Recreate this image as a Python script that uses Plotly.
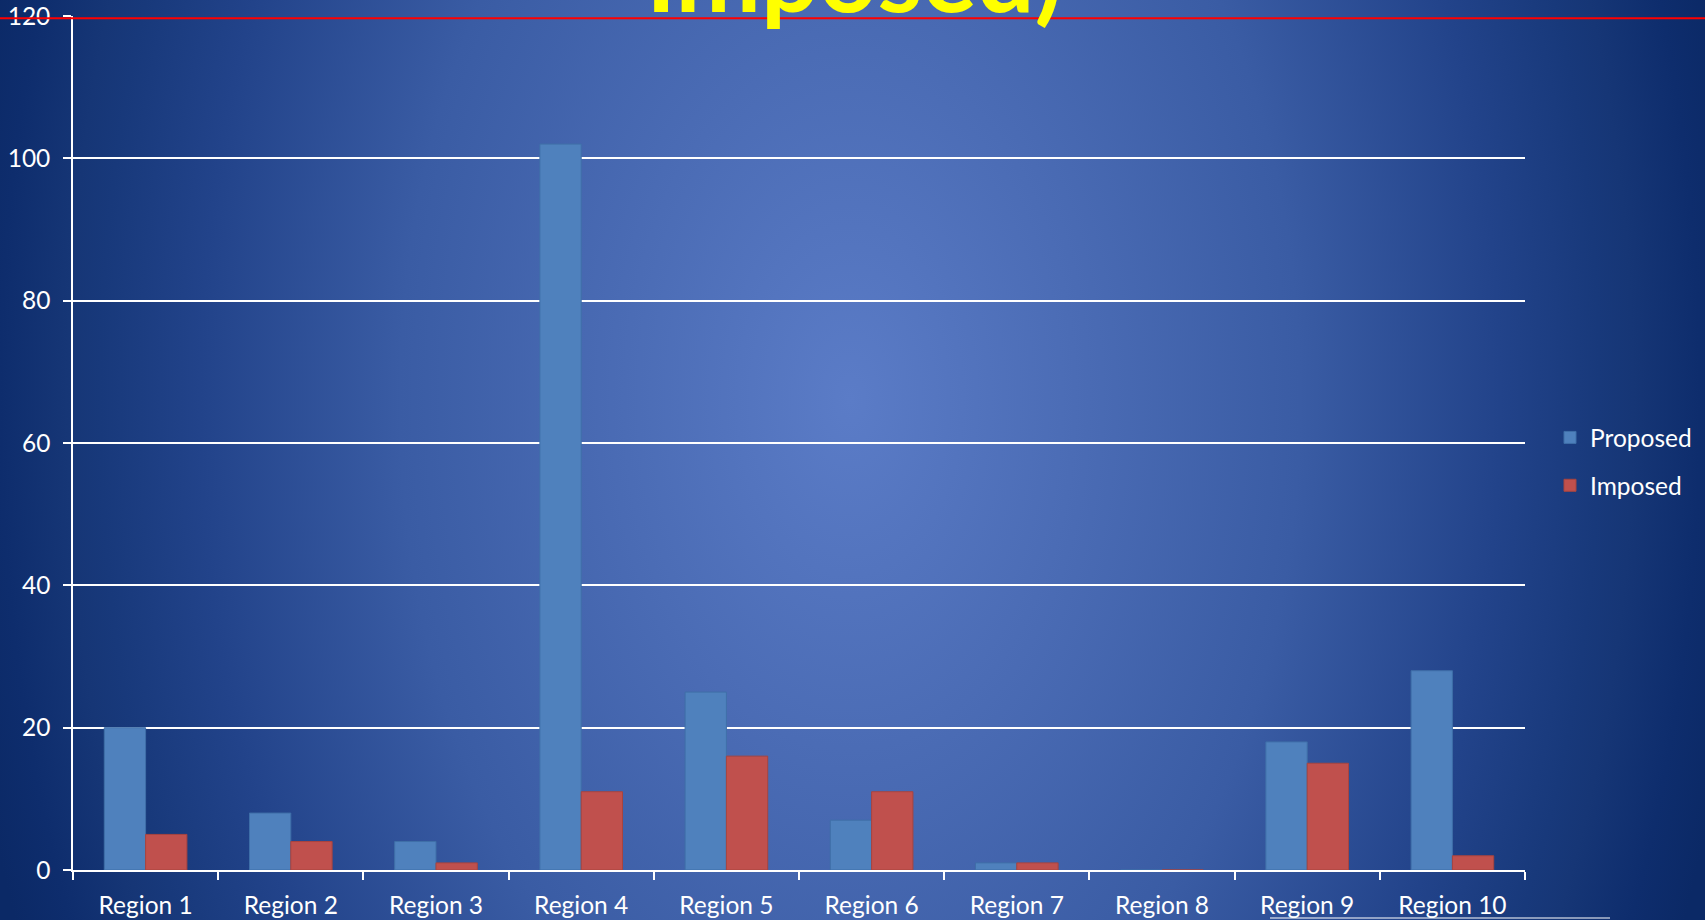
import base64
import plotly.graph_objects as go

# ---- data ----
regions = ["Region 1", "Region 2", "Region 3", "Region 4", "Region 5",
           "Region 6", "Region 7", "Region 8", "Region 9", "Region 10"]
proposed = [20, 8, 4, 102, 25, 7, 1, 0, 18, 28]
imposed = [5, 4, 1, 11, 16, 11, 1, 0, 15, 2]
y_ticks = [0, 20, 40, 60, 80, 100, 120]
title_text = "Imposed)"

W, H = 1705, 920
ML, MR, MT, MB = 73, 180, 16, 50
PW, PH = W - ML - MR, H - MT - MB

FONT = "Lato"
FS = 24.5

# elliptical radial gradient background as an SVG image
svg = f"""<svg xmlns='http://www.w3.org/2000/svg' width='{W}' height='{H}' viewBox='0 0 {W} {H}' preserveAspectRatio='none'>
<defs><radialGradient id='g' gradientUnits='userSpaceOnUse' cx='850' cy='400' r='900'
 gradientTransform='translate(850 400) scale(1 1.55) translate(-850 -400)'>
<stop offset='0' stop-color='#5b7cc7'/>
<stop offset='0.25' stop-color='#4b6cb5'/>
<stop offset='0.50' stop-color='#3a5ca4'/>
<stop offset='0.722' stop-color='#22438a'/>
<stop offset='0.833' stop-color='#18397b'/>
<stop offset='0.87' stop-color='#163676'/>
<stop offset='0.944' stop-color='#0e2d6d'/>
<stop offset='1' stop-color='#0b2966'/>
</radialGradient></defs>
<rect x='0' y='0' width='{W}' height='{H}' fill='url(#g)'/></svg>"""
bg_src = "data:image/svg+xml;base64," + base64.b64encode(svg.encode()).decode()

fig = go.Figure()
fig.add_trace(go.Bar(name="Proposed", x=regions, y=proposed,
                     marker=dict(color="#4f81bd", line=dict(color="#3f6fa8", width=1)),
                     legendgroup="a"))
fig.add_trace(go.Bar(name="Imposed", x=regions, y=imposed,
                     marker=dict(color="#c0504d", line=dict(color="#a8443f", width=1)),
                     legendgroup="b"))

fig.update_layout(
    width=W, height=H,
    margin=dict(l=ML, r=MR, t=MT, b=MB, autoexpand=False),
    paper_bgcolor="#0b2966",
    plot_bgcolor="rgba(0,0,0,0)",
    barmode="group", bargap=0.431, bargroupgap=0,
    font=dict(family=FONT, size=FS, color="white"),
    showlegend=True,
    legend=dict(x=(1550 - ML) / PW, xanchor="left", y=1 - (461.5 - MT) / PH, yanchor="middle",
                font=dict(family=FONT, size=FS, color="white"),
                traceorder="grouped", tracegroupgap=13, bgcolor="rgba(0,0,0,0)"),
    images=[dict(source=bg_src, xref="paper", yref="paper",
                 x=-ML / PW, y=1 + MT / PH, sizex=W / PW, sizey=H / PH,
                 xanchor="left", yanchor="top", sizing="stretch", layer="below")],
)

fig.update_xaxes(showline=True, linecolor="white", linewidth=1.5, automargin=False,
                 ticks="outside", tickson="boundaries", ticklen=8, tickcolor="white", tickwidth=1.5,
                 ticklabelstandoff=13,
                 showgrid=False, tickfont=dict(family=FONT, size=FS, color="white"))
fig.update_yaxes(range=[0, 120], tickvals=y_ticks, showline=True, linecolor="white", linewidth=1.5,
                 automargin=False,
                 ticks="outside", ticklen=8, tickcolor="white", tickwidth=1.5,
                 showgrid=True, gridcolor="white", gridwidth=1.5, zeroline=False,
                 ticklabelstandoff=8, tickfont=dict(family=FONT, size=FS, color="white"))

# title fragment (cut off at top of slide)
fig.add_annotation(text=f"<b>{title_text}</b>", xref="paper", yref="paper",
                   x=(854 - ML) / PW, y=1 - (36.5 - MT) / PH, xanchor="center", yanchor="bottom",
                   showarrow=False, font=dict(family=FONT, size=102, color="#ffff00"))

# red rule across the slide
fig.add_shape(type="line", xref="paper", yref="paper",
              x0=-ML / PW, x1=(W - ML) / PW, y0=1 - (18.3 - MT) / PH, y1=1 - (18.3 - MT) / PH,
              line=dict(color="#ff0000", width=2), layer="above")
# faint light stroke at bottom right
fig.add_shape(type="line", xref="paper", yref="paper",
              x0=(1270 - ML) / PW, x1=(1610 - ML) / PW, y0=-(918 - H + MB) / PH, y1=-(918 - H + MB) / PH,
              line=dict(color="rgba(255,255,255,0.5)", width=2), layer="above")

fig.write_html("out.html", config={"displayModeBar": False},
               post_script="document.body.style.margin='0';document.body.style.overflow='hidden';")
